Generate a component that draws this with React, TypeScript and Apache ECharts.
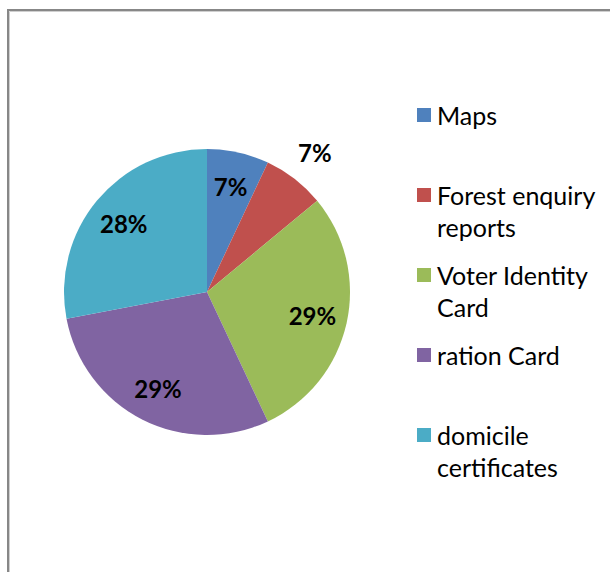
import React, { useEffect, useRef } from "react";
import * as echarts from "echarts";

const categories = [
  "Maps",
  "Forest enquiry reports",
  "Voter Identity Card",
  "ration Card",
  "domicile certificates",
];
const values = [7, 7, 29, 29, 28];
const colors = ["#4F81BD", "#C0504D", "#9BBB59", "#8064A2", "#4BACC6"];
// legend wrapping as in the original (first line, second line)
const legendLines: string[][] = [
  ["Maps", ""],
  ["Forest enquiry", "reports"],
  ["Voter Identity", "Card"],
  ["ration Card", ""],
  ["domicile", "certificates"],
];
const outsideLabelNames = ["Forest enquiry reports"];

export default function App() {
  const ref = useRef<HTMLDivElement>(null);
  useEffect(() => {
    if (!ref.current) return;
    const chart = echarts.init(ref.current, null, { renderer: "svg" });
    const center = [207, 292];
    const labelStyle = {
      color: "#000",
      fontFamily: "Lato",
      fontWeight: "bold" as const,
      fontSize: 24,
      formatter: "{d}%",
    };
    const rich: Record<string, any> = {
      g: { width: 6, lineHeight: 32 },
      p: { width: 20, lineHeight: 32 },
      t: { fontSize: 25, fontFamily: "Lato", color: "#000", lineHeight: 32 },
    };
    colors.forEach((c, i) => {
      rich["s" + i] = { width: 14, height: 14, backgroundColor: c, lineHeight: 32 };
    });
    const option: any = {
      animation: false,
      backgroundColor: "#fff",
      color: colors,
      graphic: [
        {
          type: "rect",
          shape: { x: 8, y: 10, width: 800, height: 800 },
          style: { fill: "none", stroke: "#878787", lineWidth: 2 },
          silent: true,
        },
        {
          type: "rect",
          shape: { x: 9.5, y: 11.5, width: 800, height: 800 },
          style: { fill: "none", stroke: "#cfcfcf", lineWidth: 1 },
          silent: true,
        },
      ],
      legend: {
        orient: "vertical",
        left: 412,
        top: 99,
        padding: 0,
        itemWidth: 0,
        itemHeight: 0,
        itemGap: 16,
        selectedMode: false,
        itemStyle: { opacity: 0 },
        data: categories,
        formatter: (name: string) => {
          const i = categories.indexOf(name);
          const [l1, l2] = legendLines[i];
          return `{s${i}|}{g|}{t|${l1}}\n{p|}{t|${l2 || " "}}`;
        },
        textStyle: { lineHeight: 32, rich },
      },
      series: [
        {
          type: "pie",
          center,
          radius: [0, 143],
          startAngle: 90,
          clockwise: true,
          silent: true,
          emphasis: { disabled: true },
          label: { show: false },
          labelLine: { show: false },
          data: categories.map((n, i) => ({ name: n, value: values[i] })),
        },
        {
          type: "pie",
          center,
          radius: [68, 142],
          startAngle: 90,
          clockwise: true,
          silent: true,
          emphasis: { disabled: true },
          itemStyle: { color: "rgba(0,0,0,0)" },
          labelLine: { show: false },
          label: { ...labelStyle, position: "inside" },
          data: categories.map((n, i) => ({
            name: n,
            value: values[i],
            label: { show: !outsideLabelNames.includes(n) },
          })),
        },
        {
          type: "pie",
          center,
          radius: [140, 206],
          startAngle: 90,
          clockwise: true,
          silent: true,
          emphasis: { disabled: true },
          itemStyle: { color: "rgba(0,0,0,0)" },
          labelLine: { show: false },
          label: { ...labelStyle, position: "inside" },
          data: categories.map((n, i) => ({
            name: n,
            value: values[i],
            label: { show: outsideLabelNames.includes(n) },
          })),
        },
      ],
    };
    chart.setOption(option);
    return () => chart.dispose();
  }, []);
  return (
    <div
      ref={ref}
      style={{ position: "fixed", left: 0, top: 0, width: 610, height: 572 }}
    />
  );
}
